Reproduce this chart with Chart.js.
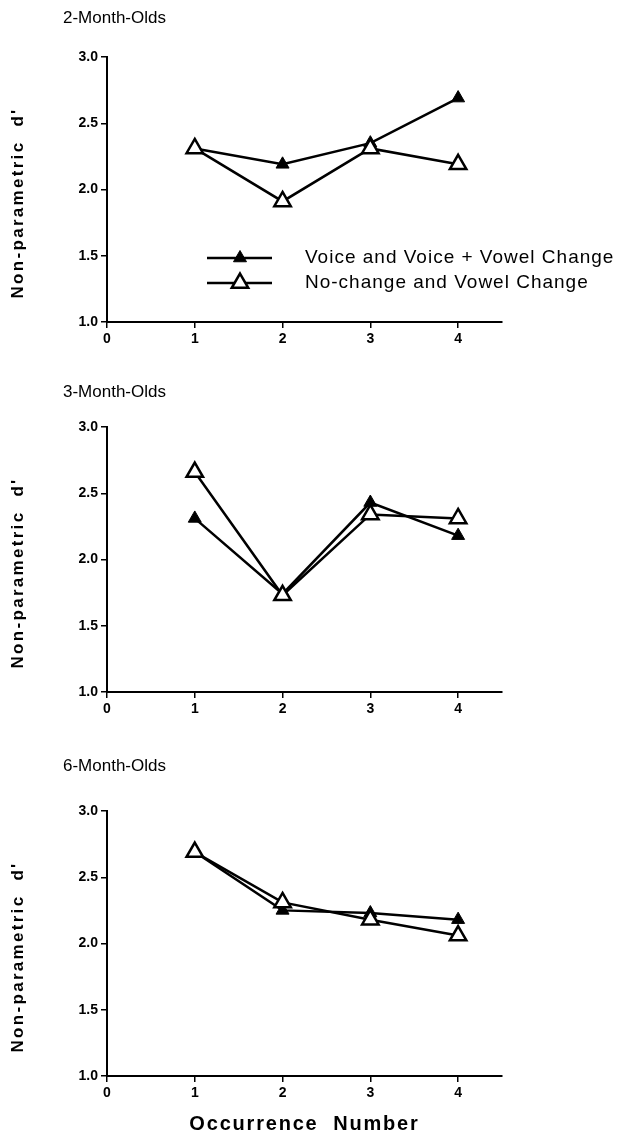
<!DOCTYPE html>
<html>
<head>
<meta charset="utf-8">
<script src="https://cdn.jsdelivr.net/npm/chart.js@4/dist/chart.umd.min.js"></script>
<style>
  body { margin: 0; background: #fff; }
  canvas.panel { position: absolute; left: 0; }
</style>
</head>
<body>
<canvas id="c2" class="panel" width="621" height="370" style="top:0px"></canvas>
<canvas id="c3" class="panel" width="621" height="384" style="top:370px"></canvas>
<canvas id="c6" class="panel" width="621" height="387" style="top:754px"></canvas>
<script>
// data
const occurrences = [1, 2, 3, 4];
const xTicks = [0, 1, 2, 3, 4];
const yTicks = [1.0, 1.5, 2.0, 2.5, 3.0];
const seriesNames = ['Voice and Voice + Vowel Change', 'No-change and Vowel Change'];
const panelTitles = ['2-Month-Olds', '3-Month-Olds', '6-Month-Olds'];
const yTitle = "Non-parametric  d'";
const xTitle = 'Occurrence  Number';

const voice2m = [2.31, 2.19, 2.35, 2.69];
const noChange2m = [2.31, 1.91, 2.31, 2.19];
const voice3m = [2.31, 1.74, 2.43, 2.18];
const noChange3m = [2.66, 1.73, 2.34, 2.31];
const voice6m = [2.69, 2.25, 2.23, 2.18];
const noChange6m = [2.69, 2.31, 2.18, 2.06];

const FONT = '"Liberation Sans", Arial, Helvetica, sans-serif';
Chart.defaults.font.family = FONT;
Chart.defaults.color = '#000';

function toPoints(vals) {
    return occurrences.map((x, i) => ({ x: x, y: vals[i] }));
}

function drawTriangle(ctx, x, y, r) {
    if (Chart.helpers && Chart.helpers.drawPoint) {
        Chart.helpers.drawPoint(ctx, { pointStyle: 'triangle', radius: r, borderWidth: ctx.lineWidth, rotation: 0 }, x, y);
        return;
    }
    ctx.beginPath();
    ctx.moveTo(x, y - r);
    ctx.lineTo(x + r * 0.866, y + r / 2);
    ctx.lineTo(x - r * 0.866, y + r / 2);
    ctx.closePath();
    ctx.fill();
    ctx.stroke();
}

// titulo del panel, titulos de ejes (con espaciado) y leyenda
const panelDecor = {
    id: 'panelDecor',
    afterDraw(chart, args, o) {
        const ctx = chart.ctx;
        ctx.save();
        ctx.fillStyle = '#000';
        ctx.textBaseline = 'middle';
        ctx.font = '17px ' + FONT;
        ctx.fillText(o.title, 63, o.titleY);

        // eje y
        ctx.save();
        ctx.font = 'bold 17px ' + FONT;
        ctx.letterSpacing = '2.3px';
        ctx.textAlign = 'center';
        ctx.translate(18, 203);
        ctx.rotate(-Math.PI / 2);
        ctx.fillText(yTitle, 0, 0);
        ctx.restore();

        if (o.xTitle) {
            ctx.save();
            ctx.font = 'bold 20px ' + FONT;
            ctx.letterSpacing = '1.8px';
            ctx.textAlign = 'center';
            const a = chart.chartArea;
            ctx.fillText(xTitle, (a.left + a.right) / 2, 370);
            ctx.restore();
        }

        if (o.legend) {
            ctx.font = '19px ' + FONT;
            ctx.letterSpacing = '1px';
            chart.data.datasets.forEach((ds, i) => {
                const y = 258 + i * 25;
                ctx.strokeStyle = '#000';
                ctx.lineWidth = 2.5;
                ctx.beginPath();
                ctx.moveTo(207, y);
                ctx.lineTo(272, y);
                ctx.stroke();
                ctx.fillStyle = ds.pointBackgroundColor;
                ctx.strokeStyle = ds.pointBorderColor;
                ctx.lineWidth = ds.pointBorderWidth;
                drawTriangle(ctx, 240, y, ds.pointRadius);
                ctx.fillStyle = '#000';
                ctx.fillText(ds.label, 305, y);
            });
        }
        ctx.restore();
    }
};

function crearPanel(id, titulo, tituloY, voice, noChange, xHeight, conLeyenda, conTituloX) {
    const ctx = document.getElementById(id).getContext('2d');
    return new Chart(ctx, {
        type: 'line',
        data: {
            datasets: [{
                label: seriesNames[0],
                data: toPoints(voice),
                borderColor: '#000',
                borderWidth: 2.5,
                pointStyle: 'triangle',
                pointRadius: 7.5,
                pointBackgroundColor: '#000',
                pointBorderColor: '#000',
                pointBorderWidth: 1,
                tension: 0,
                order: 1
            }, {
                label: seriesNames[1],
                data: toPoints(noChange),
                borderColor: '#000',
                borderWidth: 2.5,
                pointStyle: 'triangle',
                pointRadius: 9.5,
                pointBackgroundColor: '#fff',
                pointBorderColor: '#000',
                pointBorderWidth: 2.5,
                tension: 0,
                order: 0
            }]
        },
        options: {
            responsive: false,
            animation: false,
            devicePixelRatio: 1,
            layout: { padding: { top: 57, right: 119, left: 0, bottom: 0 } },
            scales: {
                x: {
                    type: 'linear',
                    min: 0,
                    max: 4.5,
                    afterBuildTicks: s => { s.ticks = xTicks.map(v => ({ value: v })); },
                    afterFit: s => { s.height = xHeight; },
                    ticks: {
                        padding: 3,
                        font: { size: 14, weight: 'bold' },
                        color: '#000'
                    },
                    grid: { drawOnChartArea: false, drawTicks: true, tickLength: 6, color: '#000', lineWidth: 1.5 },
                    border: { display: true, color: '#000', width: 2 }
                },
                y: {
                    min: 1,
                    max: 3,
                    afterBuildTicks: s => { s.ticks = yTicks.map(v => ({ value: v })); },
                    afterFit: s => { s.width = 107; },
                    ticks: {
                        padding: 3,
                        font: { size: 14, weight: 'bold' },
                        color: '#000',
                        callback: v => v.toFixed(1)
                    },
                    grid: { drawOnChartArea: false, drawTicks: true, tickLength: 6, color: '#000', lineWidth: 1.5 },
                    border: { display: true, color: '#000', width: 2 }
                }
            },
            plugins: {
                legend: { display: false },
                tooltip: { enabled: false },
                panelDecor: { title: titulo, titleY: tituloY, legend: conLeyenda, xTitle: conTituloX }
            }
        },
        plugins: [panelDecor]
    });
}

crearPanel('c2', panelTitles[0], 18, voice2m, noChange2m, 48, true, false);
crearPanel('c3', panelTitles[1], 22, voice3m, noChange3m, 62, false, false);
crearPanel('c6', panelTitles[2], 12, voice6m, noChange6m, 65, false, true);
</script>
</body>
</html>
